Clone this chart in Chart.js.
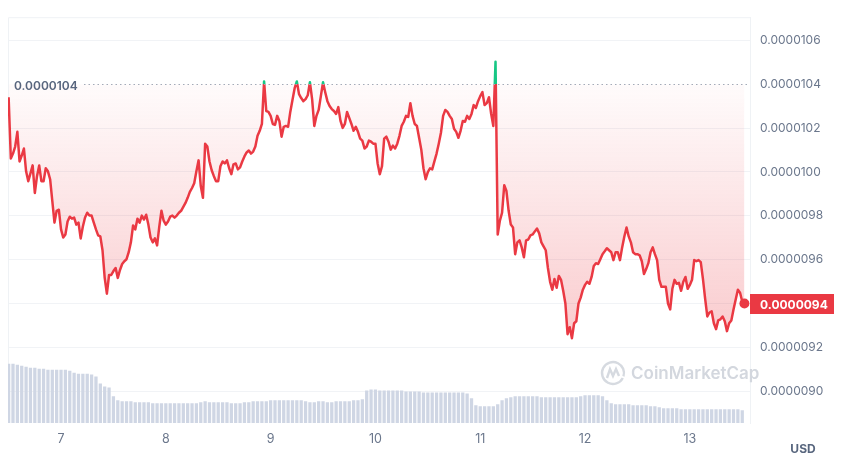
<!DOCTYPE html>
<html>
<head>
<meta charset="utf-8">
<script src="https://cdn.jsdelivr.net/npm/chart.js@4.4.1/dist/chart.umd.min.js"></script>
<style>
  html, body { margin: 0; padding: 0; background: #fff; }
  #wrap { width: 850px; height: 460px; }
</style>
</head>
<body>
<div id="wrap"><canvas id="priceChart" width="850" height="460"></canvas></div>
<script>
// price in micro-USD (1e-6), one point every 30 minutes starting day 6, 12:00
const START_DAY = 6.5;
const PRICE_STEP = 1 / 48;
const VOLUME_STEP = 1 / 24;
const BASE = 10.4;

const prices = [
  10.341, 10.062, 10.084, 10.116, 10.183, 10.048, 10.075, 10.107, 10.003, 9.958,
  9.994, 10.030, 9.904, 9.981, 10.030, 9.958, 9.958, 10.017, 10.003, 9.967,
  9.868, 9.769, 9.823, 9.828, 9.738, 9.701, 9.715, 9.774, 9.796, 9.787,
  9.792, 9.760, 9.769, 9.697, 9.751, 9.792, 9.814, 9.801, 9.801, 9.769,
  9.738, 9.711, 9.706, 9.643, 9.517, 9.445, 9.530, 9.530, 9.548, 9.562,
  9.517, 9.553, 9.580, 9.593, 9.602, 9.634, 9.679, 9.756, 9.738, 9.787,
  9.769, 9.801, 9.783, 9.805, 9.760, 9.701, 9.679, 9.697, 9.665, 9.751,
  9.823, 9.778, 9.760, 9.774, 9.796, 9.801, 9.792, 9.801, 9.814, 9.823,
  9.841, 9.859, 9.882, 9.909, 9.927, 9.949, 10.003, 10.053, 9.936, 9.882,
  10.129, 10.116, 10.048, 10.008, 9.981, 9.958, 9.958, 10.026, 10.048, 10.039,
  10.053, 10.017, 9.990, 10.035, 10.039, 10.012, 10.021, 10.048, 10.071, 10.089,
  10.098, 10.084, 10.093, 10.116, 10.165, 10.188, 10.219, 10.413, 10.278, 10.274,
  10.256, 10.219, 10.215, 10.256, 10.233, 10.161, 10.206, 10.210, 10.206, 10.274,
  10.328, 10.382, 10.413, 10.355, 10.337, 10.323, 10.332, 10.350, 10.409, 10.332,
  10.210, 10.256, 10.283, 10.346, 10.409, 10.364, 10.323, 10.301, 10.287, 10.278,
  10.265, 10.296, 10.233, 10.201, 10.219, 10.274, 10.247, 10.219, 10.188, 10.206,
  10.183, 10.152, 10.143, 10.107, 10.116, 10.143, 10.138, 10.129, 10.129, 10.039,
  9.990, 10.026, 10.152, 10.161, 10.138, 10.102, 10.120, 10.107, 10.129, 10.165,
  10.210, 10.229, 10.256, 10.251, 10.314, 10.256, 10.219, 10.210, 10.156, 10.102,
  10.017, 9.967, 9.999, 10.017, 10.012, 10.048, 10.084, 10.129, 10.179, 10.256,
  10.283, 10.274, 10.256, 10.242, 10.197, 10.183, 10.156, 10.188, 10.233, 10.229,
  10.256, 10.242, 10.265, 10.305, 10.292, 10.323, 10.346, 10.364, 10.305, 10.314,
  10.341, 10.265, 10.210, 10.503, 9.715, 9.778, 9.814, 9.940, 9.913, 9.823,
  9.760, 9.747, 9.625, 9.679, 9.688, 9.656, 9.611, 9.688, 9.692, 9.711,
  9.715, 9.729, 9.742, 9.720, 9.679, 9.661, 9.643, 9.562, 9.499, 9.463,
  9.512, 9.472, 9.526, 9.508, 9.458, 9.400, 9.260, 9.292, 9.242, 9.310,
  9.319, 9.400, 9.427, 9.463, 9.485, 9.499, 9.490, 9.521, 9.571, 9.584,
  9.580, 9.602, 9.625, 9.638, 9.652, 9.643, 9.634, 9.598, 9.634, 9.634,
  9.598, 9.656, 9.706, 9.747, 9.706, 9.679, 9.634, 9.625, 9.625, 9.620,
  9.593, 9.535, 9.557, 9.584, 9.634, 9.656, 9.625, 9.598, 9.508, 9.476,
  9.476, 9.476, 9.400, 9.373, 9.467, 9.508, 9.490, 9.494, 9.458, 9.499,
  9.521, 9.467, 9.485, 9.508, 9.598, 9.593, 9.598, 9.589, 9.512, 9.422,
  9.341, 9.359, 9.364, 9.310, 9.283, 9.323, 9.328, 9.341, 9.319, 9.274,
  9.310, 9.323, 9.373, 9.418, 9.463, 9.449, 9.409, 9.400
];

// hourly volume, million USD
const volumes = [
  3.00, 3.00, 2.95, 2.90, 2.85, 2.80, 2.80, 2.75, 2.75, 2.70,
  2.70, 2.70, 2.70, 2.70, 2.65, 2.55, 2.50, 2.50, 2.50, 2.45,
  2.35, 2.00, 1.85, 1.80, 1.35, 1.15, 1.10, 1.10, 1.10, 1.05,
  1.05, 1.05, 1.05, 1.00, 1.00, 1.00, 1.00, 1.00, 1.00, 1.00,
  1.00, 1.00, 1.00, 1.00, 1.05, 1.10, 1.05, 1.05, 1.05, 1.05,
  1.05, 1.00, 1.00, 1.00, 1.05, 1.05, 1.10, 1.10, 1.10, 1.10,
  1.15, 1.15, 1.15, 1.15, 1.15, 1.15, 1.15, 1.15, 1.10, 1.05,
  1.05, 1.10, 1.10, 1.05, 1.05, 1.10, 1.10, 1.10, 1.10, 1.15,
  1.15, 1.20, 1.65, 1.70, 1.70, 1.65, 1.65, 1.65, 1.65, 1.65,
  1.65, 1.60, 1.60, 1.60, 1.60, 1.55, 1.55, 1.55, 1.55, 1.55,
  1.55, 1.55, 1.55, 1.55, 1.55, 1.50, 1.25, 0.90, 0.85, 0.85,
  0.85, 0.85, 0.95, 1.15, 1.25, 1.30, 1.35, 1.35, 1.35, 1.35,
  1.35, 1.35, 1.30, 1.30, 1.30, 1.30, 1.30, 1.30, 1.30, 1.30,
  1.30, 1.35, 1.40, 1.40, 1.40, 1.40, 1.35, 1.15, 1.00, 0.95,
  0.95, 0.95, 0.95, 0.90, 0.90, 0.90, 0.90, 0.85, 0.85, 0.80,
  0.75, 0.75, 0.75, 0.75, 0.70, 0.70, 0.70, 0.70, 0.70, 0.70,
  0.70, 0.70, 0.70, 0.70, 0.70, 0.70, 0.70, 0.70, 0.65
];

const dayTicks = [7, 8, 9, 10, 11, 12, 13];
const dayLabels = ['7', '8', '9', '10', '11', '12', '13'];

const RED = '#ea3943';
const GREEN = '#16c784';
const GREY_TEXT = '#6b778c';

Chart.defaults.font.family = 'Inter, "Noto Sans", sans-serif';

function fmt(v) {
  return (v / 1e6).toFixed(7);
}

function splitGradient(chart, aboveTop, aboveBase, belowBase, belowBottom) {
  const { ctx, chartArea, scales } = chart;
  if (!chartArea) return belowBase;
  const yb = scales.y.getPixelForValue(BASE);
  let t = (yb - chartArea.top) / (chartArea.bottom - chartArea.top);
  t = Math.min(Math.max(t, 0), 1);
  const g = ctx.createLinearGradient(0, chartArea.top, 0, chartArea.bottom);
  g.addColorStop(0, aboveTop);
  g.addColorStop(t, aboveBase);
  g.addColorStop(t, belowBase);
  g.addColorStop(1, belowBottom);
  return g;
}

const priceData = prices.map((v, i) => ({ x: START_DAY + i * PRICE_STEP, y: v }));
const volumeData = volumes.map((v, i) => ({ x: START_DAY + i * VOLUME_STEP, y: v }));

const decor = {
  id: 'decor',
  beforeDatasetsDraw(chart) {
    const { ctx, chartArea: a } = chart;
    ctx.save();
    // frame left / top
    ctx.strokeStyle = '#eff2f5';
    ctx.lineWidth = 1;
    ctx.beginPath();
    ctx.moveTo(a.left + 0.5, a.bottom);
    ctx.lineTo(a.left + 0.5, a.top + 0.5);
    ctx.lineTo(a.right, a.top + 0.5);
    ctx.stroke();

    // watermark
    const wx = 613, wy = 373;
    ctx.strokeStyle = '#d6dae0';
    ctx.lineWidth = 2.4;
    ctx.beginPath();
    ctx.arc(wx, wy, 11, 0.15 * Math.PI, 2.1 * Math.PI);
    ctx.stroke();
    ctx.beginPath();
    ctx.moveTo(wx - 6, wy + 5);
    ctx.lineTo(wx - 3, wy - 4);
    ctx.lineTo(wx, wy + 3);
    ctx.lineTo(wx + 3, wy - 4);
    ctx.lineTo(wx + 6, wy + 3);
    ctx.stroke();
    ctx.fillStyle = '#d3d7de';
    ctx.font = '600 17px Inter, sans-serif';
    ctx.textBaseline = 'middle';
    ctx.textAlign = 'left';
    ctx.fillText('CoinMarketCap', 631, wy + 1);
    ctx.restore();
  },
  afterDatasetsDraw(chart) {
    const { ctx, chartArea: a, scales } = chart;
    ctx.save();
    const yb = Math.round(scales.y.getPixelForValue(BASE)) + 0.5;
    ctx.strokeStyle = '#a3abb8';
    ctx.lineWidth = 1;
    ctx.setLineDash([1.5, 3]);
    ctx.beginPath();
    ctx.moveTo(a.left + 76, yb);
    ctx.lineTo(a.right, yb);
    ctx.stroke();
    ctx.setLineDash([]);
    ctx.font = '600 12px Inter, sans-serif';
    ctx.fillStyle = '#58667e';
    ctx.textBaseline = 'middle';
    ctx.textAlign = 'left';
    ctx.fillText(fmt(BASE), a.left + 6, yb + 2);
    ctx.restore();
  },
  afterDraw(chart) {
    const { ctx, chartArea: a, scales } = chart;
    const last = prices[prices.length - 1];
    const py = Math.round(scales.y.getPixelForValue(last));
    ctx.save();
    ctx.fillStyle = RED;
    ctx.fillRect(a.right, py - 10, 84, 20);
    ctx.fillStyle = '#fff';
    ctx.font = '700 12px Inter, sans-serif';
    ctx.textBaseline = 'middle';
    ctx.textAlign = 'left';
    ctx.fillText(fmt(last), a.right + 10, py + 1);
    ctx.fillStyle = '#58667e';
    ctx.font = '700 12px Inter, sans-serif';
    ctx.textAlign = 'center';
    ctx.fillText('USD', 803, 449);
    ctx.restore();
  }
};

new Chart(document.getElementById('priceChart'), {
  data: {
    datasets: [
      {
        type: 'line',
        label: 'Price',
        data: priceData,
        order: 0,
        yAxisID: 'y',
        borderWidth: 2.5,
        tension: 0,
        borderJoinStyle: 'round',
        borderColor: (c) => splitGradient(c.chart, GREEN, GREEN, RED, RED),
        backgroundColor: (c) => splitGradient(c.chart,
          'rgba(22,199,132,0.25)', 'rgba(22,199,132,0.03)',
          'rgba(234,57,67,0.02)', 'rgba(234,57,67,0.34)'),
        fill: { target: { value: BASE } },
        pointRadius: (c) => (c.dataIndex === prices.length - 1 ? 5 : 0),
        pointBackgroundColor: RED,
        pointBorderColor: RED,
        pointBorderWidth: 0
      },
      {
        type: 'bar',
        label: 'Volume',
        data: volumeData,
        order: 1,
        yAxisID: 'yv',
        backgroundColor: '#cfd6e4',
        categoryPercentage: 1,
        barPercentage: 0.75
      }
    ]
  },
  options: {
    responsive: false,
    animation: false,
    events: [],
    layout: { padding: { left: 8, top: 12, right: 0, bottom: 0 } },
    plugins: {
      legend: { display: false },
      tooltip: { enabled: false }
    },
    scales: {
      x: {
        type: 'linear',
        position: 'bottom',
        offset: false,
        min: 6.494,
        max: 13.574,
        afterBuildTicks: (s) => { s.ticks = dayTicks.map((v) => ({ value: v })); },
        afterFit: (s) => { s.height = 37; },
        grid: { display: false, drawTicks: false, offset: false },
        border: { display: false },
        ticks: {
          padding: 9,
          color: GREY_TEXT,
          font: { size: 12.5 },
          maxRotation: 0,
          callback: (v) => dayLabels[dayTicks.indexOf(v)]
        }
      },
      y: {
        position: 'right',
        min: 8.855,
        max: 10.706,
        afterFit: (s) => { s.width = 100; },
        grid: {
          drawTicks: false,
          color: (c) => (c.tick && Math.abs(c.tick.value - BASE) < 1e-6 ? 'rgba(0,0,0,0)' : '#f1f3f6')
        },
        border: { display: true, color: '#eff2f5' },
        ticks: {
          stepSize: 0.2,
          includeBounds: false,
          padding: 10,
          color: GREY_TEXT,
          font: { size: 12 },
          callback: (v) => fmt(v)
        }
      },
      yv: {
        display: false,
        min: 0,
        max: 20.55
      }
    }
  },
  plugins: [decor]
});
</script>
</body>
</html>
